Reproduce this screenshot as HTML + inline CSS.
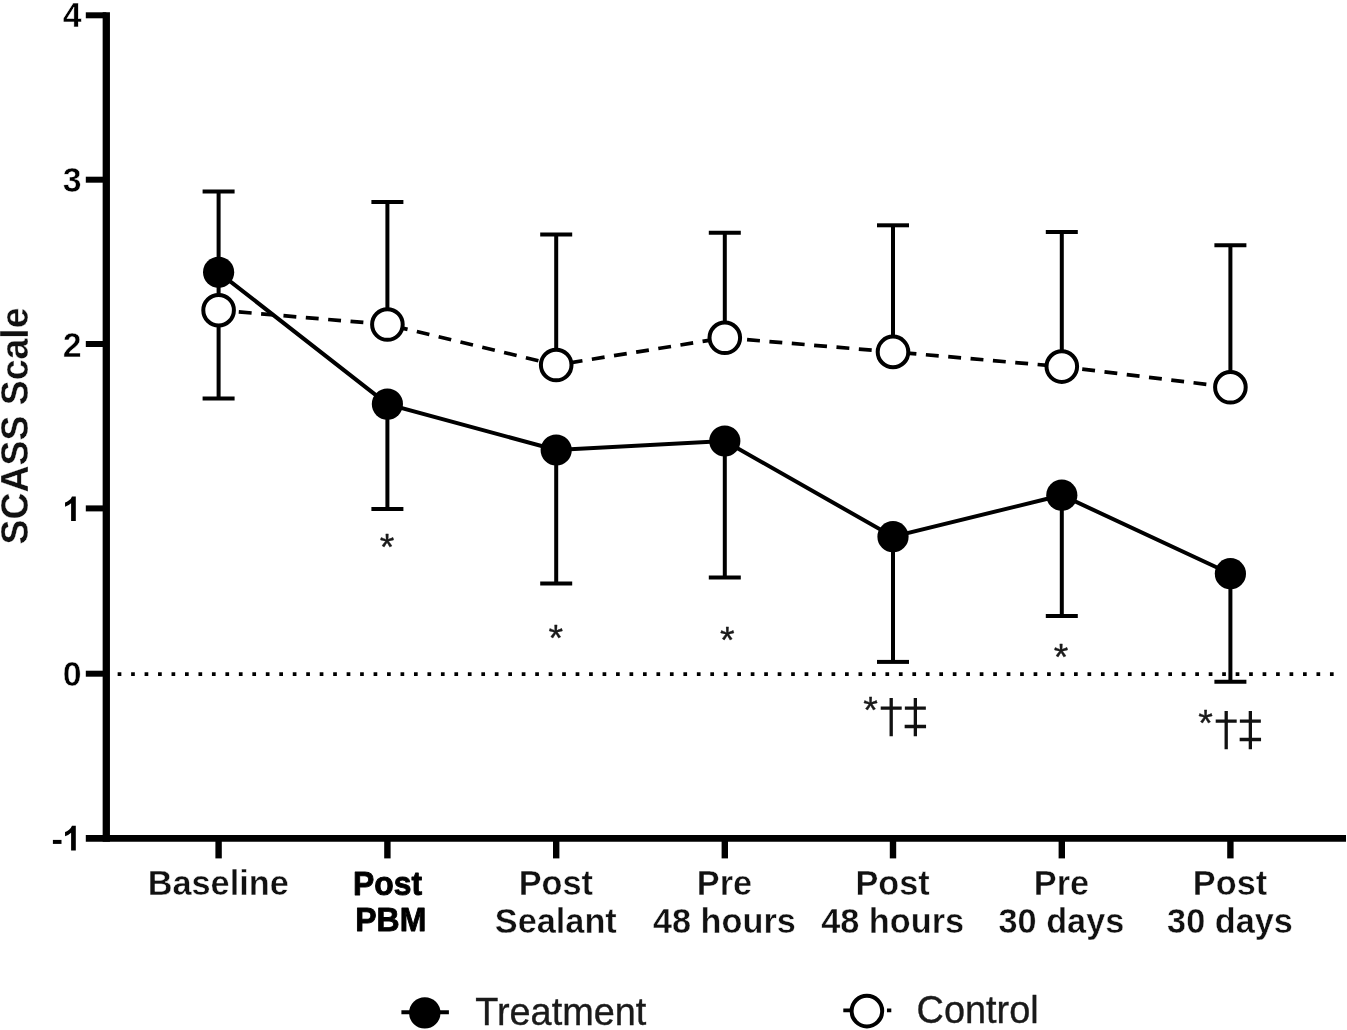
<!DOCTYPE html>
<html><head><meta charset="utf-8"><title>SCASS Scale</title>
<style>html,body{margin:0;padding:0;background:#fff;}body{width:1347px;height:1030px;overflow:hidden;position:relative;}svg{display:block;position:absolute;left:0;top:0;filter:blur(0.45px);}text{font-family:"Liberation Sans",sans-serif;}</style>
</head><body>
<svg width="1347" height="1030" viewBox="0 0 1347 1030">
<rect width="1347" height="1030" fill="#fff"/>
<line x1="117.65" y1="674.1" x2="1336" y2="674.1" stroke="#000" stroke-width="3.6" stroke-dasharray="3.7 9.77"/>
<g stroke="#000" fill="none">
<line x1="106.3" y1="12.2" x2="106.3" y2="841.8" stroke-width="7.3"/>
<line x1="85.8" y1="838.4" x2="1346" y2="838.4" stroke-width="6.8"/>
<line x1="85.8" y1="15.3" x2="106.3" y2="15.3" stroke-width="6"/>
<line x1="85.8" y1="179.7" x2="106.3" y2="179.7" stroke-width="6"/>
<line x1="85.8" y1="344.0" x2="106.3" y2="344.0" stroke-width="6"/>
<line x1="85.8" y1="508.4" x2="106.3" y2="508.4" stroke-width="6"/>
<line x1="85.8" y1="673.7" x2="106.3" y2="673.7" stroke-width="6"/>
<line x1="218.6" y1="838.4" x2="218.6" y2="858.4" stroke-width="6.4"/>
<line x1="387.4" y1="838.4" x2="387.4" y2="858.4" stroke-width="6.4"/>
<line x1="556.2" y1="838.4" x2="556.2" y2="858.4" stroke-width="6.4"/>
<line x1="724.8" y1="838.4" x2="724.8" y2="858.4" stroke-width="6.4"/>
<line x1="893.0" y1="838.4" x2="893.0" y2="858.4" stroke-width="6.4"/>
<line x1="1061.8" y1="838.4" x2="1061.8" y2="858.4" stroke-width="6.4"/>
<line x1="1230.4" y1="838.4" x2="1230.4" y2="858.4" stroke-width="6.4"/>
</g>
<text transform="translate(81.60,27.10) scale(0.9565,1)" font-size="35.40" font-weight="bold" text-anchor="end" fill="#000" stroke="#fff" stroke-width="0.5">4</text>
<text transform="translate(81.60,192.20) scale(0.9565,1)" font-size="35.40" font-weight="bold" text-anchor="end" fill="#000" stroke="#fff" stroke-width="0.5">3</text>
<text transform="translate(81.60,356.50) scale(0.9565,1)" font-size="35.40" font-weight="bold" text-anchor="end" fill="#000" stroke="#fff" stroke-width="0.5">2</text>
<text transform="translate(81.60,686.20) scale(0.9565,1)" font-size="35.40" font-weight="bold" text-anchor="end" fill="#000" stroke="#fff" stroke-width="0.5">0</text>
<path d="M75.80 521.00H71.11V503.32Q68.54 505.72 65.05 506.87V502.61Q66.88 502.01 69.04 500.34Q71.19 498.66 71.99 496.42H75.80Z" fill="#000"/>
<path d="M75.80 850.40H71.11V832.72Q68.54 835.12 65.05 836.27V832.01Q66.88 831.41 69.04 829.74Q71.19 828.06 71.99 825.82H75.80Z" fill="#000"/>
<rect x="52.9" y="839.9" width="8.6" height="4.0" fill="#000"/>
<text transform="translate(28.20,426.00) rotate(-90) scale(0.9845,1)" font-size="38.01" font-weight="bold" text-anchor="middle" fill="#111" stroke="#fff" stroke-width="0.3">SCASS Scale</text>
<g stroke="#000" stroke-width="4" fill="none">
<line x1="218.6" y1="272.3" x2="218.6" y2="191.4"/><line x1="202.6" y1="191.4" x2="234.6" y2="191.4"/>
<line x1="387.4" y1="404.1" x2="387.4" y2="509.0"/><line x1="371.4" y1="509.0" x2="403.4" y2="509.0"/>
<line x1="556.2" y1="450.0" x2="556.2" y2="583.6"/><line x1="540.2" y1="583.6" x2="572.2" y2="583.6"/>
<line x1="724.8" y1="441.0" x2="724.8" y2="577.4"/><line x1="708.8" y1="577.4" x2="740.8" y2="577.4"/>
<line x1="893.0" y1="536.7" x2="893.0" y2="661.9"/><line x1="877.0" y1="661.9" x2="909.0" y2="661.9"/>
<line x1="1061.8" y1="495.2" x2="1061.8" y2="616.0"/><line x1="1045.8" y1="616.0" x2="1077.8" y2="616.0"/>
<line x1="1230.4" y1="573.7" x2="1230.4" y2="681.8"/><line x1="1214.4" y1="681.8" x2="1246.4" y2="681.8"/>
<line x1="218.6" y1="310.2" x2="218.6" y2="398.6"/><line x1="202.6" y1="398.6" x2="234.6" y2="398.6"/>
<line x1="387.4" y1="324.5" x2="387.4" y2="201.9"/><line x1="371.4" y1="201.9" x2="403.4" y2="201.9"/>
<line x1="556.2" y1="365.0" x2="556.2" y2="234.5"/><line x1="540.2" y1="234.5" x2="572.2" y2="234.5"/>
<line x1="724.8" y1="337.8" x2="724.8" y2="232.7"/><line x1="708.8" y1="232.7" x2="740.8" y2="232.7"/>
<line x1="893.0" y1="351.9" x2="893.0" y2="225.3"/><line x1="877.0" y1="225.3" x2="909.0" y2="225.3"/>
<line x1="1061.8" y1="366.6" x2="1061.8" y2="232.0"/><line x1="1045.8" y1="232.0" x2="1077.8" y2="232.0"/>
<line x1="1230.4" y1="387.3" x2="1230.4" y2="245.2"/><line x1="1214.4" y1="245.2" x2="1246.4" y2="245.2"/>
</g>
<line x1="218.6" y1="272" x2="218.6" y2="312" stroke="#000" stroke-width="4"/>
<polyline points="218.6,310.2 387.4,324.5 556.2,365.0 724.8,337.8 893.0,351.9 1061.8,366.6 1230.4,387.3" fill="none" stroke="#000" stroke-width="3.7" stroke-dasharray="12.9 9.53" stroke-dashoffset="2.2"/>
<polyline points="218.6,272.3 387.4,404.1 556.2,450.0 724.8,441.0 893.0,536.7 1061.8,495.2 1230.4,573.7" fill="none" stroke="#000" stroke-width="4"/>
<circle cx="218.6" cy="310.2" r="15.3" fill="#fff" stroke="#000" stroke-width="4"/>
<circle cx="387.4" cy="324.5" r="15.3" fill="#fff" stroke="#000" stroke-width="4"/>
<circle cx="556.2" cy="365.0" r="15.3" fill="#fff" stroke="#000" stroke-width="4"/>
<circle cx="724.8" cy="337.8" r="15.3" fill="#fff" stroke="#000" stroke-width="4"/>
<circle cx="893.0" cy="351.9" r="15.3" fill="#fff" stroke="#000" stroke-width="4"/>
<circle cx="1061.8" cy="366.6" r="15.3" fill="#fff" stroke="#000" stroke-width="4"/>
<circle cx="1230.4" cy="387.3" r="15.3" fill="#fff" stroke="#000" stroke-width="4"/>
<circle cx="218.6" cy="272.3" r="15.6" fill="#000"/>
<circle cx="387.4" cy="404.1" r="15.6" fill="#000"/>
<circle cx="556.2" cy="450.0" r="15.6" fill="#000"/>
<circle cx="724.8" cy="441.0" r="15.6" fill="#000"/>
<circle cx="893.0" cy="536.7" r="15.6" fill="#000"/>
<circle cx="1061.8" cy="495.2" r="15.6" fill="#000"/>
<circle cx="1230.4" cy="573.7" r="15.6" fill="#000"/>
<text x="387.00" y="560.42" font-size="37.5" text-anchor="middle" fill="#1a1a1a" stroke="#1a1a1a" stroke-width="0.35" stroke-linejoin="round">*</text>
<text x="555.80" y="651.12" font-size="37.5" text-anchor="middle" fill="#1a1a1a" stroke="#1a1a1a" stroke-width="0.35" stroke-linejoin="round">*</text>
<text x="727.20" y="652.52" font-size="37.5" text-anchor="middle" fill="#1a1a1a" stroke="#1a1a1a" stroke-width="0.35" stroke-linejoin="round">*</text>
<text x="1061.10" y="670.12" font-size="37.5" text-anchor="middle" fill="#1a1a1a" stroke="#1a1a1a" stroke-width="0.35" stroke-linejoin="round">*</text>
<text x="870.55" y="723.12" font-size="37.5" text-anchor="middle" fill="#1a1a1a" stroke="#1a1a1a" stroke-width="0.35" stroke-linejoin="round">*</text>
<path d="M891.2 698.0V736.3M880.7 708.1H901.7" stroke="#111" stroke-width="3.3" fill="none"/>
<path d="M915.35 698.0V736.3M904.85 708.1H925.85M904.65 726.5H926.0500000000001" stroke="#111" stroke-width="3.3" fill="none"/>
<text x="1205.55" y="736.12" font-size="37.5" text-anchor="middle" fill="#1a1a1a" stroke="#1a1a1a" stroke-width="0.35" stroke-linejoin="round">*</text>
<path d="M1226.2 711.0V749.3M1215.7 721.1H1236.7" stroke="#111" stroke-width="3.3" fill="none"/>
<path d="M1250.3500000000001 711.0V749.3M1239.8500000000001 721.1H1260.8500000000001M1239.65 739.5H1261.0500000000002" stroke="#111" stroke-width="3.3" fill="none"/>
<text transform="translate(218.20,894.70) scale(0.9662,1)" font-size="35.50" font-weight="bold" text-anchor="middle" fill="#111" stroke="#fff" stroke-width="0.4">Baseline</text>
<text transform="translate(555.80,894.70) scale(0.9662,1)" font-size="35.50" font-weight="bold" text-anchor="middle" fill="#111" stroke="#fff" stroke-width="0.4">Post</text>
<text transform="translate(555.80,933.00) scale(0.9662,1)" font-size="35.50" font-weight="bold" text-anchor="middle" fill="#111" stroke="#fff" stroke-width="0.4">Sealant</text>
<text transform="translate(724.40,894.70) scale(0.9662,1)" font-size="35.50" font-weight="bold" text-anchor="middle" fill="#111" stroke="#fff" stroke-width="0.4">Pre</text>
<text transform="translate(724.40,933.00) scale(0.9662,1)" font-size="35.50" font-weight="bold" text-anchor="middle" fill="#111" stroke="#fff" stroke-width="0.4">48 hours</text>
<text transform="translate(892.60,894.70) scale(0.9662,1)" font-size="35.50" font-weight="bold" text-anchor="middle" fill="#111" stroke="#fff" stroke-width="0.4">Post</text>
<text transform="translate(892.60,933.00) scale(0.9662,1)" font-size="35.50" font-weight="bold" text-anchor="middle" fill="#111" stroke="#fff" stroke-width="0.4">48 hours</text>
<text transform="translate(1061.40,894.70) scale(0.9662,1)" font-size="35.50" font-weight="bold" text-anchor="middle" fill="#111" stroke="#fff" stroke-width="0.4">Pre</text>
<text transform="translate(1061.40,933.00) scale(0.9662,1)" font-size="35.50" font-weight="bold" text-anchor="middle" fill="#111" stroke="#fff" stroke-width="0.4">30 days</text>
<text transform="translate(1230.00,894.70) scale(0.9662,1)" font-size="35.50" font-weight="bold" text-anchor="middle" fill="#111" stroke="#fff" stroke-width="0.4">Post</text>
<text transform="translate(1230.00,933.00) scale(0.9662,1)" font-size="35.50" font-weight="bold" text-anchor="middle" fill="#111" stroke="#fff" stroke-width="0.4">30 days</text>
<g font-size="33.8" font-weight="bold" fill="#000" stroke="#000" stroke-width="0.9" stroke-linejoin="round">
<text x="353.0" y="894.8" textLength="69.0" lengthAdjust="spacingAndGlyphs">Post</text>
<text x="355.3" y="930.9" textLength="71.0" lengthAdjust="spacingAndGlyphs">PBM</text>
</g>
<line x1="401.4" y1="1012.3" x2="448.9" y2="1012.3" stroke="#000" stroke-width="4"/>
<circle cx="424.8" cy="1012.9" r="15.7" fill="#000"/>
<text transform="translate(475.20,1025.00) scale(0.9846,1)" font-size="38.48" text-anchor="start" fill="#1a1a1a" stroke="#1a1a1a" stroke-width="0.35">Treatment</text>
<line x1="843.3" y1="1010.4" x2="891.3" y2="1010.4" stroke="#000" stroke-width="3.7" stroke-dasharray="12.9 9.53" stroke-dashoffset="1.2"/>
<circle cx="866.9" cy="1011.1" r="15.3" fill="#fff" stroke="#000" stroke-width="4"/>
<text transform="translate(916.60,1022.90) scale(0.9846,1)" font-size="38.48" text-anchor="start" fill="#1a1a1a" stroke="#1a1a1a" stroke-width="0.35">Control</text>
</svg>
</body></html>
